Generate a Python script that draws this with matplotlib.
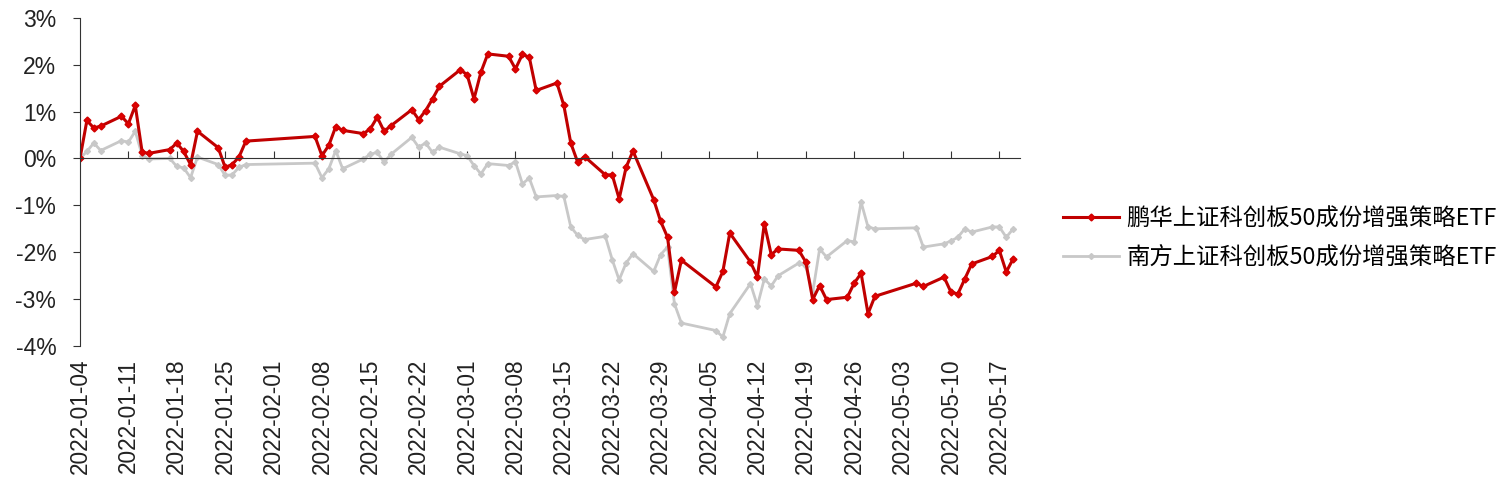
import matplotlib
matplotlib.use("Agg")
import matplotlib.pyplot as plt
import matplotlib.dates as mdates
import pandas as pd

plt.rcParams["font.family"] = ["Liberation Sans", "Noto Sans CJK SC", "DejaVu Sans"]

# trading days 2022-01-04 .. 2022-05-19
dates = [
    "2022-01-04", "2022-01-05", "2022-01-06", "2022-01-07", "2022-01-10", "2022-01-11",
    "2022-01-12", "2022-01-13", "2022-01-14", "2022-01-17", "2022-01-18", "2022-01-19",
    "2022-01-20", "2022-01-21", "2022-01-24", "2022-01-25", "2022-01-26", "2022-01-27",
    "2022-01-28",
    "2022-02-07", "2022-02-08", "2022-02-09", "2022-02-10", "2022-02-11", "2022-02-14",
    "2022-02-15", "2022-02-16", "2022-02-17", "2022-02-18", "2022-02-21", "2022-02-22",
    "2022-02-23", "2022-02-24", "2022-02-25", "2022-02-28",
    "2022-03-01", "2022-03-02", "2022-03-03", "2022-03-04", "2022-03-07", "2022-03-08",
    "2022-03-09", "2022-03-10", "2022-03-11", "2022-03-14", "2022-03-15", "2022-03-16",
    "2022-03-17", "2022-03-18", "2022-03-21", "2022-03-22", "2022-03-23", "2022-03-24",
    "2022-03-25", "2022-03-28", "2022-03-29", "2022-03-30", "2022-03-31",
    "2022-04-01", "2022-04-06", "2022-04-07", "2022-04-08", "2022-04-11", "2022-04-12",
    "2022-04-13", "2022-04-14", "2022-04-15", "2022-04-18", "2022-04-19", "2022-04-20",
    "2022-04-21", "2022-04-22", "2022-04-25", "2022-04-26", "2022-04-27", "2022-04-28",
    "2022-04-29",
    "2022-05-05", "2022-05-06", "2022-05-09", "2022-05-10", "2022-05-11", "2022-05-12",
    "2022-05-13", "2022-05-16", "2022-05-17", "2022-05-18", "2022-05-19",
]

# excess return, %
penghua = [
    0.00, 0.81, 0.65, 0.69, 0.90, 0.74, 1.13, 0.13, 0.11, 0.19, 0.33, 0.15,
    -0.13, 0.58, 0.23, -0.19, -0.13, 0.03, 0.37,
    0.47, 0.06, 0.28, 0.68, 0.60, 0.53, 0.63, 0.88, 0.58, 0.70, 1.04, 0.83,
    1.02, 1.27, 1.54, 1.89,
    1.79, 1.27, 1.84, 2.23, 2.18, 1.91, 2.22, 2.16, 1.45, 1.61, 1.13, 0.33,
    -0.08, 0.04, -0.35, -0.35, -0.86, -0.19, 0.16, -0.88, -1.34, -1.68, -2.85,
    -2.17, -2.74, -2.41, -1.59, -2.21, -2.53, -1.39, -2.05, -1.93, -1.96, -2.21,
    -3.01, -2.71, -3.01, -2.96, -2.66, -2.45, -3.31, -2.94,
    -2.66, -2.73, -2.53, -2.85, -2.89, -2.57, -2.25, -2.09, -1.96, -2.42, -2.14,
]

nanfang = [
    0.00, 0.15, 0.33, 0.17, 0.38, 0.35, 0.58, 0.06, -0.01, 0.00, -0.17, -0.20,
    -0.41, 0.03, -0.13, -0.36, -0.35, -0.19, -0.13,
    -0.10, -0.41, -0.22, 0.17, -0.22, -0.01, 0.09, 0.13, -0.08, 0.09, 0.45, 0.24,
    0.33, 0.13, 0.24, 0.10,
    0.06, -0.15, -0.33, -0.11, -0.15, -0.07, -0.54, -0.42, -0.82, -0.79, -0.81, -1.46,
    -1.64, -1.73, -1.66, -2.16, -2.59, -2.23, -2.03, -2.41, -2.05, -1.89, -3.10,
    -3.51, -3.67, -3.81, -3.31, -2.67, -3.14, -2.57, -2.72, -2.50, -2.23, -2.30,
    -2.86, -1.93, -2.10, -1.75, -1.78, -0.93, -1.46, -1.50,
    -1.48, -1.89, -1.82, -1.76, -1.68, -1.50, -1.57, -1.46, -1.46, -1.68, -1.50,
]

names = ["鹏华上证科创板50成份增强策略ETF", "南方上证科创板50成份增强策略ETF"]

x = pd.to_datetime(dates)
ticks = pd.date_range("2022-01-04", "2022-05-17", freq="7D")

fig = plt.figure(figsize=(15.09, 4.95), dpi=100)
ax = fig.add_axes([0.053, 0.301, 0.623, 0.663])

l2, = ax.plot(x, nanfang, color="#C8C8C8", lw=2, marker="D", ms=3,
              label=names[1])
l1, = ax.plot(x, penghua, color="#C00000", lw=2.2, marker="D", ms=3.5,
              markerfacecolor="#E00000", markeredgecolor="#D00000", label=names[0])

ax.set_ylim(-4, 3)
ax.set_xlim(pd.Timestamp("2022-01-04"), pd.Timestamp("2022-05-20"))
ax.set_yticks(range(-4, 4))
ax.yaxis.set_major_formatter(plt.FuncFormatter(lambda v, p: f"{v:.0f}%"))

for s in ["top", "right"]:
    ax.spines[s].set_visible(False)
ax.spines["left"].set_color("#333333")
ax.spines["bottom"].set_color("#333333")
ax.spines["bottom"].set_position(("data", 0))

ax.tick_params(axis="y", direction="out", length=5, color="#333333",
               labelsize=16.5, labelcolor="#222222", pad=12)
ax.set_xticks(ticks)
ax.tick_params(axis="x", direction="in", length=5, color="#333333", labelbottom=False)

sec = ax.secondary_xaxis("bottom")
sec.set_xticks(ticks)
sec.xaxis.set_major_formatter(mdates.DateFormatter("%Y-%m-%d"))
sec.tick_params(length=0, labelsize=16.3, labelrotation=90, labelcolor="#222222", pad=9)
sec.spines["bottom"].set_visible(False)

fig.legend([l1, l2], names, loc="center left", bbox_to_anchor=(0.6985, 0.519),
           frameon=False, borderaxespad=0, handlelength=2.4, handletextpad=0.3,
           labelspacing=0.65, prop={"family": ["Noto Sans CJK SC", "DejaVu Sans"], "size": 16.8})

fig.savefig("out.png", dpi=100)
